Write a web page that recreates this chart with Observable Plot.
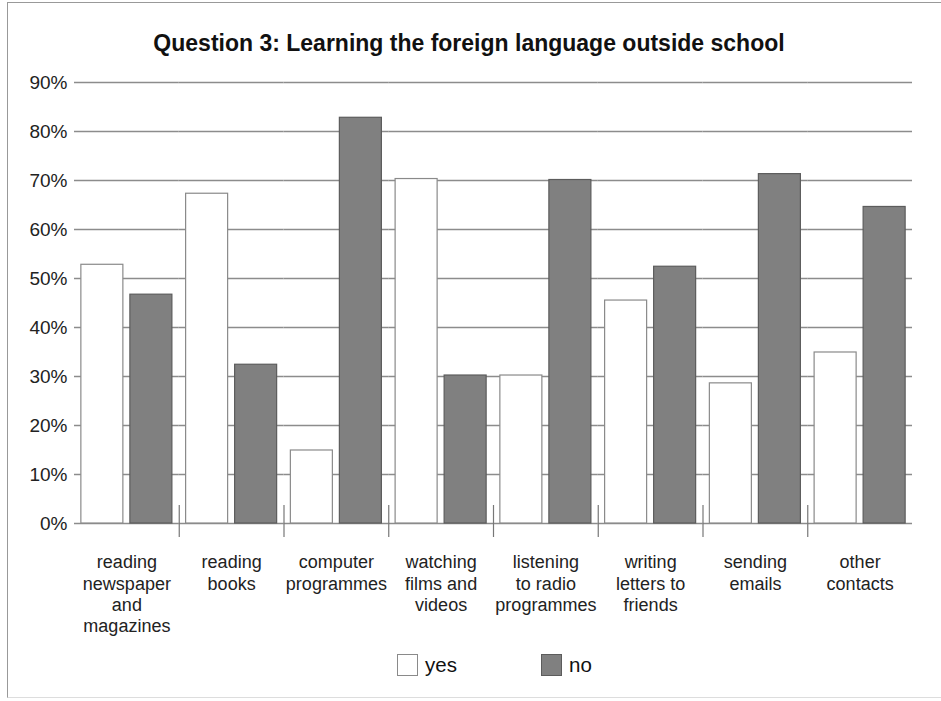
<!DOCTYPE html>
<html><head><meta charset="utf-8">
<script src="https://cdn.jsdelivr.net/npm/d3@7"></script>
<script src="https://cdn.jsdelivr.net/npm/@observablehq/plot@0.6"></script>
<style>
body{margin:0;background:#fff;font-family:"Liberation Sans",Arial,sans-serif;}
#wrap{position:relative;width:941px;height:701px;overflow:hidden;}
#border{position:absolute;left:7px;top:2px;width:940px;height:694px;border-left:1.5px solid #999;border-top:1.5px solid #999;border-bottom:1px solid #ddd;}
#title{position:absolute;top:30px;left:0;width:938px;text-align:center;font-weight:bold;font-size:23px;color:#111;}
#chart{position:absolute;left:0;top:0;}
.lg{position:absolute;top:653px;display:flex;align-items:center;font-size:20.5px;color:#111;}
.lg span.box{display:inline-block;width:21px;height:22px;box-sizing:border-box;margin-right:7px;}
</style></head>
<body>
<div id="wrap">
  <div id="border"></div>
  <div id="chart"></div>
  <div id="title">Question 3: Learning the foreign language outside school</div>
  <div id="legend"></div>
</div>
<script>
const categories = ["newspaper","books","computer","films","radio","letters","emails","other"];
const categoryLabels = [
  "reading\nnewspaper\nand\nmagazines",
  "reading\nbooks",
  "computer\nprogrammes",
  "watching\nfilms and\nvideos",
  "listening\nto radio\nprogrammes",
  "writing\nletters to\nfriends",
  "sending\nemails",
  "other\ncontacts"
];
const series = ["yes","no"];
const yesValues = [52.8, 67.3, 14.9, 70.3, 30.2, 45.5, 28.6, 34.9];
const noValues  = [46.7, 32.4, 82.8, 30.2, 70.1, 52.4, 71.3, 64.6];
const yTicks = [0, 0.1, 0.2, 0.3, 0.4, 0.5, 0.6, 0.7, 0.8, 0.9];
const fills = {yes: "#ffffff", no: "#808080"};
const strokes = {yes: "#8a8a8a", no: "#5c5c5c"};

const rows = categories.flatMap((c, i) => [
  {cat: c, series: "yes", value: yesValues[i] / 100},
  {cat: c, series: "no", value: noValues[i] / 100}
]);

const chart = Plot.plot({
  width: 941, height: 701,
  marginLeft: 74, marginRight: 29, marginTop: 82, marginBottom: 178,
  style: {fontFamily: "'Liberation Sans', Arial, sans-serif", fontSize: "19px", color: "#222", background: "transparent", overflow: "visible"},
  fx: {domain: categories, padding: 0, round: false, axis: null, label: null},
  x: {domain: series, paddingInner: 0.143, paddingOuter: 0.14, round: false, axis: null, label: null},
  y: {domain: [0, 0.9], axis: null, label: null},
  marks: [
    Plot.gridY(yTicks, {stroke: "#8c8c8c", strokeOpacity: 1, strokeWidth: 1.3}),
    Plot.axisY(yTicks, {tickSize: 0, tickPadding: 7, tickFormat: d3.format(".0%"), fontSize: 19, fill: "#222", label: null}),
    Plot.barY(rows, {fx: "cat", x: "series", y: "value", fill: d => fills[d.series], stroke: d => strokes[d.series], strokeWidth: 1.2}),
    Plot.ruleX(categories.slice(1), {fx: d => d, x: null, dx: -52.375, insetTop: 423, insetBottom: -14, stroke: "#777", strokeWidth: 1.2}),
    Plot.text(categories, {fx: d => d, text: (d, i) => categoryLabels[i], frameAnchor: "bottom", lineAnchor: "top", dy: 30, lineHeight: 1.17, fontSize: 18, fill: "#222"})
  ]
});
document.getElementById("chart").appendChild(chart);

const legend = document.getElementById("legend");
const legendX = [397, 541];
series.forEach((s, i) => {
  const el = document.createElement("div");
  el.className = "lg";
  el.style.left = legendX[i] + "px";
  el.innerHTML = `<span class="box" style="background:${fills[s]};border:1.5px solid ${strokes[s]}"></span><span>${s}</span>`;
  legend.appendChild(el);
});
</script>
</body></html>
